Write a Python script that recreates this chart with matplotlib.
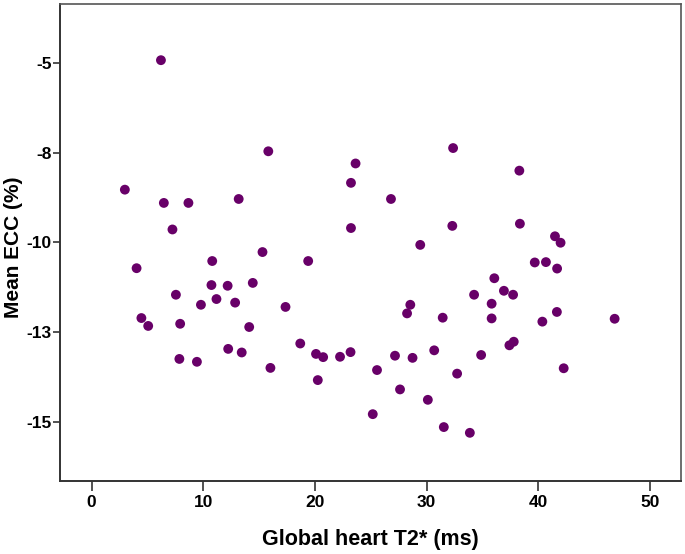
import matplotlib
matplotlib.use("Agg")
import matplotlib.pyplot as plt

# Global heart T2* (ms) vs mean ECC (%)
t2_ms = [2.98, 4.03, 4.46, 5.07, 6.21, 6.47, 7.24, 7.55, 7.93, 7.86,
         8.67, 9.43, 9.79, 10.73, 10.80, 11.18, 12.18, 12.23, 12.85, 13.17,
         13.44, 14.11, 14.43, 15.30, 15.82, 16.01, 17.36, 18.68, 19.39, 20.09,
         20.25, 20.73, 22.24, 23.18, 23.22, 23.63, 23.22, 25.17, 25.55, 26.80,
         27.16, 27.61, 28.24, 28.53, 28.73, 29.42, 30.10, 30.67, 31.43, 31.53,
         32.29, 32.36, 32.72, 33.86, 34.24, 34.87, 35.81, 35.81, 36.05, 36.91,
         37.40, 37.79, 37.73, 38.29, 38.34, 39.67, 40.35, 40.67, 41.48, 41.67,
         41.65, 41.98, 42.26, 46.82]
ecc_pct = [-8.53, -10.72, -12.11, -12.33, -4.92, -8.90, -9.64, -11.46, -12.27, -13.25,
           -8.90, -13.33, -11.74, -11.19, -10.52, -11.58, -11.21, -12.97, -11.68, -8.79,
           -13.07, -12.36, -11.13, -10.27, -7.46, -13.50, -11.80, -12.82, -10.52, -13.11,
           -13.84, -13.20, -13.19, -13.06, -8.34, -7.80, -9.60, -14.79, -13.56, -8.79,
           -13.16, -14.10, -11.98, -11.74, -13.22, -10.07, -14.39, -13.01, -12.10, -15.15,
           -9.54, -7.37, -13.66, -15.31, -11.46, -13.14, -11.71, -12.12, -11.00, -11.35,
           -12.87, -12.77, -11.46, -8.00, -9.48, -10.56, -12.21, -10.55, -9.83, -10.73,
           -11.94, -10.01, -13.51, -12.13]

x_ticks = [0, 10, 20, 30, 40, 50]
y_ticks = [-5, -7.5, -10, -12.5, -15]
y_tick_labels = ["-5", "-8", "-10", "-13", "-15"]

plt.rcParams['font.family'] = ['Liberation Sans', 'DejaVu Sans']

fig = plt.figure(figsize=(6.85, 5.54), dpi=100)
ax = fig.add_axes([0.088, 0.132, 0.906, 0.861])

ax.scatter(t2_ms, ecc_pct, s=50, color='#680068', edgecolors='none', zorder=3)

ax.set_xlim(-2.8, 52.75)
ax.set_ylim(-16.65, -3.35)
ax.set_xticks(x_ticks)
ax.set_yticks(y_ticks)
ax.set_yticklabels(y_tick_labels)

for lbl in ax.get_xticklabels() + ax.get_yticklabels():
    lbl.set_fontweight('bold')
    lbl.set_fontsize(12.5)
ax.tick_params(axis='x', direction='out', length=7, width=1.2, color='#333333', pad=3)
ax.tick_params(axis='y', direction='out', length=5, width=1.2, color='#333333', pad=1)

for side in ['left', 'bottom']:
    ax.spines[side].set_linewidth(1.4)
    ax.spines[side].set_color('#333333')
for side in ['top', 'right']:
    ax.spines[side].set_linewidth(1.2)
    ax.spines[side].set_color('#555555')

ax.set_xlabel("Global heart T2* (ms)", fontsize=15.5, fontweight='bold', labelpad=14)
ax.set_ylabel("Mean ECC (%)", fontsize=15, fontweight='bold', va='center')
ax.yaxis.set_label_coords(-0.075, 0.49)

fig.savefig("out.png", dpi=100)
